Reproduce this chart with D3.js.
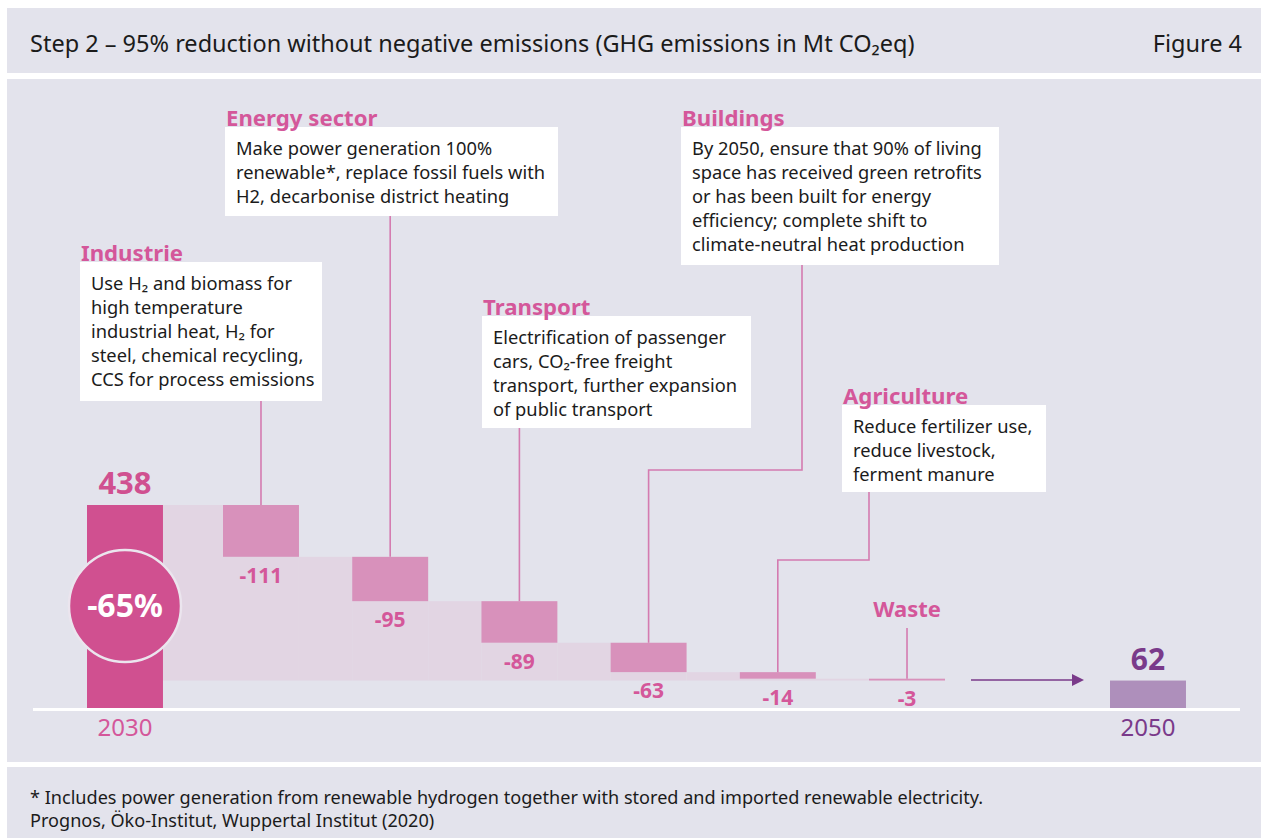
<!DOCTYPE html>
<html><head><meta charset="utf-8">
<script src="https://cdn.jsdelivr.net/npm/d3@7/dist/d3.min.js"></script>
<style>
html,body{margin:0;padding:0;background:#fff;}
svg{display:block;font-family:"Noto Sans",sans-serif;}
</style></head>
<body>
<script>
// ---- data ----
const title = "Step 2 \u2013 95% reduction without negative emissions (GHG emissions in Mt CO\u2082eq)";
const figureLabel = "Figure 4";
const years = ["2030", "2050"];
const startValue = 438;
const endValue = 62;
const reductionLabel = "-65%";
const sectors = ["Industrie", "Energy sector", "Transport", "Buildings", "Agriculture", "Waste"];
const changes = [-111, -95, -89, -63, -14, -3];
const descriptions = [
  ["Use H\u2082 and biomass for", "high temperature", "industrial heat, H\u2082 for", "steel, chemical recycling,", "CCS for process emissions"],
  ["Make power generation 100%", "renewable*, replace fossil fuels with", "H2, decarbonise district heating"],
  ["Electrification of passenger", "cars, CO\u2082-free freight", "transport, further expansion", "of public transport"],
  ["By 2050, ensure that 90% of living", "space has received green retrofits", "or has been built for energy", "efficiency; complete shift to", "climate-neutral heat production"],
  ["Reduce fertilizer use,", "reduce livestock,", "ferment manure"],
  []
];
const footnotes = [
  "* Includes power generation from renewable hydrogen together with stored and imported renewable electricity.",
  "Prognos, \u00d6ko-Institut, Wuppertal Institut (2020)"
];

// ---- layout (positions only) ----
const W = 1261, H = 838;
const boxes = [ // callout box geometry + leader elbow
  {x: 80,  y: 262, w: 242, h: 139},
  {x: 225, y: 127, w: 333, h: 89},
  {x: 482, y: 316, w: 269, h: 112},
  {x: 681, y: 127, w: 318, h: 138, elbowX: 802, elbowY: 470},
  {x: 842, y: 405, w: 204, h: 87,  elbowX: 869, elbowY: 560},
  null
];
const C = {
  bg: "#e3e3ec", start: "#d05090", step: "#d891bb", band: "#e2d5e3",
  end: "#ae8fbb", endText: "#7a3a8a", pink: "#d4579a", leader: "#d47bb0", text: "#1b1b1b"
};

const svg = d3.select("body").append("svg").attr("width", W).attr("height", H);

// panels
svg.append("rect").attr("x", 7).attr("y", 8).attr("width", W - 7).attr("height", 65).attr("fill", C.bg);
svg.append("rect").attr("x", 7).attr("y", 79).attr("width", W - 7).attr("height", 683).attr("fill", C.bg);
svg.append("rect").attr("x", 7).attr("y", 767).attr("width", W - 7).attr("height", 71).attr("fill", C.bg);

svg.append("text").attr("x", 30).attr("y", 52).attr("font-size", 23.5).attr("fill", C.text).text(title);
svg.append("text").attr("x", 1242).attr("y", 52).attr("font-size", 23.5).attr("fill", C.text)
  .attr("text-anchor", "end").text(figureLabel);

footnotes.forEach((t, i) => {
  svg.append("text").attr("x", 30).attr("y", 804 + i * 23).attr("font-size", 18.1).attr("fill", C.text).text(t);
});

// scales
const y = d3.scaleLinear().domain([0, startValue]).range([709.5, 505]);
const x = d3.scaleBand().domain(sectors).range([223, 945]).paddingInner(0.412).paddingOuter(0);
const bw = x.bandwidth();
const yearX = d3.scaleOrdinal().domain(years).range([87, 1110]);

// running levels
const levels = [startValue];
changes.forEach(c => levels.push(levels[levels.length - 1] + c));
const steps = sectors.map((s, i) => ({sector: s, change: changes[i], before: levels[i], after: levels[i + 1], desc: descriptions[i], box: boxes[i]}));

const g = svg.append("g");

// light staircase band down to the end level
steps.forEach((d, i) => {
  const x0 = i === 0 ? yearX(years[0]) + bw : x(sectors[i - 1]) + bw;
  g.append("rect").attr("x", x0).attr("y", y(d.before))
    .attr("width", x(d.sector) - x0).attr("height", Math.max(0, y(endValue) - y(d.before))).attr("fill", C.band);
  g.append("rect").attr("x", x(d.sector)).attr("y", y(d.after))
    .attr("width", bw).attr("height", Math.max(0, y(endValue) - y(d.after))).attr("fill", C.band);
});

// start bar
g.append("rect").attr("x", yearX(years[0])).attr("y", y(startValue)).attr("width", bw)
  .attr("height", y(0) - y(startValue)).attr("fill", C.start);
// end bar
g.append("rect").attr("x", yearX(years[1])).attr("y", y(endValue)).attr("width", bw)
  .attr("height", y(0) - y(endValue)).attr("fill", C.end);

// step bars
g.selectAll(".step").data(steps).join("rect")
  .attr("x", d => x(d.sector)).attr("y", d => y(d.before))
  .attr("width", bw).attr("height", d => Math.max(1.8, y(d.after) - y(d.before)))
  .attr("fill", C.step);

// step labels
g.selectAll(".lbl").data(steps).join("text")
  .attr("x", d => x(d.sector) + bw / 2).attr("y", d => y(d.after) + 26)
  .attr("text-anchor", "middle").attr("font-size", 21).attr("font-weight", 700)
  .attr("fill", C.pink).text(d => d.change);

// baseline
g.append("line").attr("x1", 33).attr("x2", 1240).attr("y1", 709.5).attr("y2", 709.5)
  .attr("stroke", "#fff").attr("stroke-width", 3);

// year labels & totals
g.append("text").attr("x", yearX(years[0]) + bw / 2).attr("y", 736).attr("text-anchor", "middle")
  .attr("font-size", 24).attr("fill", C.pink).text(years[0]);
g.append("text").attr("x", yearX(years[1]) + bw / 2).attr("y", 736).attr("text-anchor", "middle")
  .attr("font-size", 24).attr("fill", C.endText).text(years[1]);
g.append("text").attr("x", yearX(years[0]) + bw / 2).attr("y", y(startValue) - 11).attr("text-anchor", "middle")
  .attr("font-size", 31).attr("font-weight", 700).attr("fill", C.start).text(startValue);
g.append("text").attr("x", yearX(years[1]) + bw / 2).attr("y", y(endValue) - 11).attr("text-anchor", "middle")
  .attr("font-size", 30).attr("font-weight", 700).attr("fill", C.endText).text(endValue);

// reduction circle
const cx = yearX(years[0]) + bw / 2;
g.append("circle").attr("cx", cx).attr("cy", 606).attr("r", 56)
  .attr("fill", C.start).attr("stroke", "#ebe5ee").attr("stroke-width", 2.5);
g.append("text").attr("x", cx).attr("y", 617).attr("text-anchor", "middle")
  .attr("font-size", 32).attr("font-weight", 700).attr("fill", "#fff").text(reductionLabel);

// arrow
const ay = y(endValue) - 0.5;
g.append("line").attr("x1", 971).attr("x2", 1073).attr("y1", ay).attr("y2", ay)
  .attr("stroke", C.endText).attr("stroke-width", 1.6);
g.append("path").attr("d", `M1072,${ay - 6}L1084,${ay}L1072,${ay + 6}Z`).attr("fill", C.endText);

// leaders, boxes, titles
steps.forEach((d, i) => {
  const bx = x(d.sector) + bw / 2;
  const b = d.box;
  if (!b) {
    // Waste: label only
    g.append("line").attr("x1", bx).attr("x2", bx).attr("y1", 628).attr("y2", y(d.before))
      .attr("stroke", C.leader).attr("stroke-width", 1.6);
    g.append("text").attr("x", bx).attr("y", 617).attr("text-anchor", "middle")
      .attr("font-size", 22).attr("font-weight", 700).attr("fill", C.pink).text(d.sector);
    return;
  }
  let path;
  if (b.elbowX !== undefined) {
    path = `M${b.elbowX},${b.y + b.h}V${b.elbowY}H${bx}V${y(d.before)}`;
  } else {
    path = `M${bx},${b.y + b.h}V${y(d.before)}`;
  }
  g.append("path").attr("d", path).attr("fill", "none").attr("stroke", C.leader).attr("stroke-width", 1.6);
  g.append("rect").attr("x", b.x).attr("y", b.y).attr("width", b.w).attr("height", b.h).attr("fill", "#fff");
  g.append("text").attr("x", b.x + 1).attr("y", b.y - 1).attr("font-size", 22.2).attr("font-weight", 700)
    .attr("fill", C.pink).text(d.sector);
  d.desc.forEach((line, j) => {
    g.append("text").attr("x", b.x + 11).attr("y", b.y + 28 + j * 24).attr("font-size", 18.3)
      .attr("fill", C.text).text(line);
  });
});
</script>
</body></html>
